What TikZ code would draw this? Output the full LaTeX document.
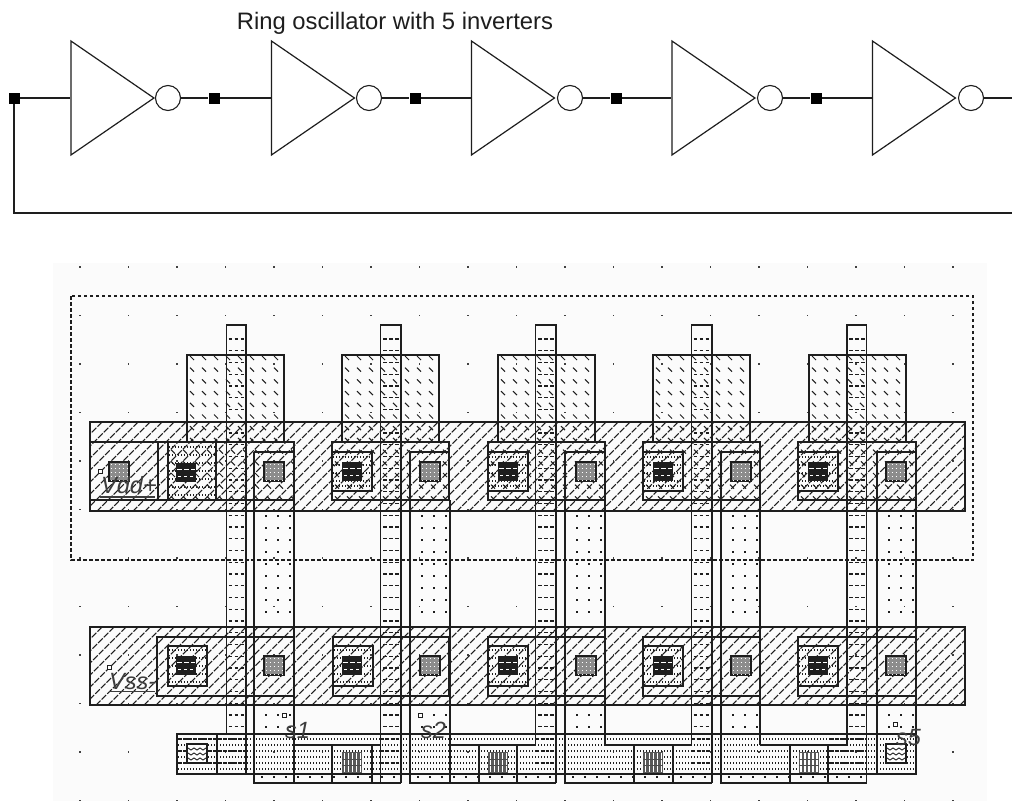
\documentclass[tikz,border=0pt]{standalone}
\usepackage{fontspec}
\setmainfont{Liberation Sans}
\usetikzlibrary{shapes.geometric}
\definecolor{ink}{HTML}{1E1E1E}
\definecolor{lab}{HTML}{3C3C3C}
\definecolor{pagegray}{HTML}{FBFBFB}
\tikzset{
  inverter/.style={draw=ink,line width=1.2pt,fill=white,isosceles triangle,isosceles triangle stretches,
    shape border rotate=0,minimum width=114pt,minimum height=83pt,inner sep=0pt,anchor=apex},
  bubble/.style={draw=ink,line width=1.1pt,fill=white,circle,minimum size=25pt,inner sep=0pt},
  junction/.style={fill=black,rectangle,minimum size=11pt,inner sep=0pt},
  link/.style={draw=ink,line width=1.25pt},
  railhatch/.style={draw=ink,line width=1.05pt,dash pattern=on 6.5pt off 1.5pt},
  diffhatch/.style={draw=ink,line width=1pt},
  polydash/.style={draw=ink,line width=1.2pt,dash pattern=on 3.5pt off 2.5pt},
  rowdots/.style={draw=ink,line width=1.2pt,dash pattern=on 1.2pt off 1.8pt},
  rowdash/.style={draw=ink,line width=1.2pt,dash pattern=on 3.5pt off 1.5pt},
  tag/.style={text=lab,font=\fontsize{23.5}{24}\selectfont\itshape,inner sep=0pt},
  marker/.style={draw=ink,line width=.9pt,fill=white},
}
% ---- drawing helpers (pixel coordinates)
\newcommand\RailHatch[4]{\begin{scope}\clip (#1,#2) rectangle (#3,#4);
  \pgfmathtruncatemacro\ca{#1+#2}\pgfmathtruncatemacro\cb{\ca+12}\pgfmathtruncatemacro\cc{#3+#4}
  \foreach \c in {\ca,\cb,...,\cc} {\draw[railhatch] (\c-#2,#2) -- (\c-#4,#4);}
\end{scope}}
\newcommand\DiffHatch[4]{\begin{scope}\clip (#1,#2) rectangle (#3,#4);
  \pgfmathsetmacro\xa{#1+5}\pgfmathsetmacro\xb{\xa+12}
  \foreach \x in {\xa,\xb,...,#3} {\foreach \y in {358,369.7,...,#4}
    {\draw[diffhatch] (\x-2,\y-2) -- (\x+2,\y+2);}}
\end{scope}}
\newcommand\ContactDark[2]{\fill[ink] (#1,#2) rectangle ++(20,19);
  \draw[white,line width=1pt,dash pattern=on 5pt off 2pt] (#1+1,#2+6) -- ++(18,0);
  \draw[white,line width=1pt,dash pattern=on 3pt off 3pt] (#1+2,#2+13) -- ++(17,0);}
\newcommand\ContactGray[2]{\draw[ink,line width=1.3pt,fill=black!45] (#1,#2) rectangle ++(20,19);
  \foreach \u in {3,7,...,19} {\draw[white,line width=.8pt,dash pattern=on 1pt off 3pt] (#1+1.5,#2+\u-1) -- ++(17.5,0);}}
\newcommand\ContactVia[2]{\fill[black!65] (#1,#2) rectangle ++(20,21);
  \foreach \u in {3,7,...,19} {\draw[white,line width=1.5pt] (#1+\u-.5,#2+1) -- ++(0,19);}
  \foreach \u in {7,13} {\draw[black!70,line width=1pt] (#1,#2+\u) -- ++(20,0);}}
\newcommand\ContactWave[2]{\draw[ink,line width=1.3pt,fill=white] (#1,#2) rectangle ++(20,19);
  \foreach \u in {4,9,14} {\draw[ink,line width=.9pt] (#1+1,#2+\u) -- ++(3,2) -- ++(3,-2) -- ++(3,2) -- ++(3,-2) -- ++(3,2) -- ++(3,-2);}}
\begin{document}
\begin{tikzpicture}[x=1pt,y=-1pt]
\useasboundingbox (0,0) rectangle (1012,801);
\fill[white] (0,0) rectangle (1012,801);
\fill[pagegray] (53,263) rectangle (987,801);

% ---------- schematic ----------
\node[inner sep=0pt,text=ink,font=\fontsize{23.8}{24}\selectfont] (title) at (395,23) {Ring oscillator with 5 inverters};
\coordinate (endout) at (1012,98);
\coordinate (fbcorner) at (14,213);
\coordinate (fbend) at (1012,213);
\node[junction] (j1) at (14,98) {};
\node[junction] (j2) at (214,98) {};
\node[junction] (j3) at (415,98) {};
\node[junction] (j4) at (616,98) {};
\node[junction] (j5) at (816,98) {};
\node[inverter] (i1) at (155.5,98) {};
\node[inverter] (i2) at (356,98) {};
\node[inverter] (i3) at (556,98) {};
\node[inverter] (i4) at (756.5,98) {};
\node[inverter] (i5) at (957,98) {};
\node[bubble] (b1) at (168,98) {};
\node[bubble] (b2) at (369,98) {};
\node[bubble] (b3) at (570,98) {};
\node[bubble] (b4) at (770,98) {};
\node[bubble] (b5) at (971,98) {};
\draw[link] (j1) -- (i1);
\draw[link] (j2) -- (i2);
\draw[link] (j3) -- (i3);
\draw[link] (j4) -- (i4);
\draw[link] (j5) -- (i5);
\draw[link] (b1) -- (j2);
\draw[link] (b2) -- (j3);
\draw[link] (b3) -- (j4);
\draw[link] (b4) -- (j5);
\draw[link] (b5) -- (endout);
\draw[link] (j1) -- (fbcorner) -- (fbend);

% ---------- layout: grid ----------
\foreach \i in {0,...,18} {\foreach \j in {0,...,11}
  {\fill[black!75] (80+48.5*\i-.7,267+48.5*\j-.7) rectangle ++(1.5,1.5);}}
\draw[ink,line width=1.1pt,dash pattern=on 3.5pt off 2.5pt] (71,296) rectangle (973,560);

% ---------- rails ----------
\RailHatch{90}{422}{965}{511}
\RailHatch{90}{627}{965}{705}

% ---------- p diffusion ----------
\foreach \a/\b in {187/284,342/439,498/595,653/750,809/906}
  {\DiffHatch{\a}{355}{\b}{442}}
\DiffHatch{168}{442}{294}{500}
\foreach \a/\b in {332/449,488/605,643/760,798/916}
  {\DiffHatch{\a}{442}{\b}{500}}

% ---------- dotted n/p contact areas ----------
\foreach \y in {447,455,463,471,479,487,495} {\draw[rowdots] (169,\y) -- (216,\y);}
\foreach \a in {332,488,643,798} {\foreach \y in {457,465,473,481,486} {\draw[rowdots] (\a+1,\y) -- (\a+40,\y);}}
\foreach \a/\b in {168/207,333/372,488/527,643/683,798/838} {\foreach \y in {650,658,666,674,682} {\draw[rowdots] (\a+1,\y) -- (\b,\y);}}

% ---------- metal dots ----------
\foreach \a in {254,410,565,721,877} {
  \foreach \y in {516,528,...,622,715,727} {\foreach \d in {12,24,36} {\fill[ink] (\a+\d-.8,\y-1.2) rectangle ++(1.8,2.6);}}
}
\foreach \x in {262,274,...,400,418,430,...,555,573,585,...,711,729,741,...,865} {\fill[ink] (\x-.8,776) rectangle ++(1.8,1.8);}

% ---------- horizontal poly strip ----------
\foreach \y in {739,745,751,757,763,769} {\draw[rowdots] (178,\y) -- (915,\y);}
\foreach \a/\b in {178/246,380.5/401,535.5/556,691.5/712,830/866} {\foreach \y in {739,751,763} {\draw[rowdash] (\a,\y) -- (\b,\y);}}

% ---------- vertical poly dashes ----------
\foreach \a in {226.5,381,536,691.5,847} {\foreach \k in {0,...,33}
  {\draw[polydash] (\a+2,339+11.75*\k) -- ++(17,0);}}

% ---------- outlines ----------
\begin{scope}[line width=1.3pt,draw=ink]
% p diffusion outlines
\foreach \a/\b in {187/284,342/439,498/595,653/750,809/906} {\draw (\a,442) -- (\a,355) -- (\b,355) -- (\b,442);}
% rails
\draw (90,422) rectangle (965,511);
\draw (90,627) rectangle (965,705);
% upper group boxes
\draw (90,442) -- (294,442) -- (294,500) -- (90,500);
\draw (158,442) -- (158,500); \draw (168,442) -- (168,500); \draw (216,442) -- (216,500);
\draw (254,452) -- (294,452);
\foreach \a/\b/\m in {332/449/410,488/605/565,643/760/721,798/916/877} {
  \draw (\a,442) rectangle (\b,500);
  \draw (\a,491) -- (\a+40,491) -- (\a+40,452) -- (\a,452);
  \draw (\m,452) -- (\b,452);
}
% lower group boxes
\draw (157,637) rectangle (294,696);
\draw (168,646) rectangle (207,686);
\foreach \a/\b in {333/449,488/605,643/760,798/916} {
  \draw (\a,637) rectangle (\b,696);
  \draw (\a,646) rectangle (\a+40,686);
}
% poly strip
\draw (177,734) rectangle (916,774);
\draw (217,734) -- (217,774);
% vertical poly
\draw (226.5,734) -- (226.5,325) -- (246,325) -- (246,774);
\draw (380.5,783) -- (380.5,325) -- (401,325) -- (401,783);
\draw (535.5,745) -- (535.5,325) -- (556,325) -- (556,783);
\draw (691.5,745) -- (691.5,325) -- (712,325) -- (712,783);
\draw (847,745) -- (847,325) -- (866.5,325) -- (866.5,783);
% metal wires and gate pads
\draw (254,452) -- (254,783) -- (401,783);
\draw (294,442) -- (294,783); \draw (294,745) -- (380.5,745);
\draw (410,452) -- (410,783) -- (556,783);
\draw (450,500) -- (450,783); \draw (450,745) -- (535.5,745);
\draw (565,452) -- (565,783) -- (712,783);
\draw (605,500) -- (605,745); \draw (605,745) -- (691.5,745);
\draw (721,452) -- (721,783) -- (866.5,783);
\draw (760,500) -- (760,745); \draw (760,745) -- (847,745);
\draw (877,452) -- (877,774);
\draw (916,500) -- (916,774);
% gate pad dividers
\foreach \l/\r in {332/372,479/517,634/673,790/828} { \draw (\l,745) -- (\l,783); \draw (\r,745) -- (\r,783); }
\end{scope}

% ---------- contacts ----------
\ContactGray{109}{462}
\ContactDark{176}{463}
\foreach \a in {342,498,653,808} {\ContactDark{\a}{462}}
\foreach \a in {264,420,576,731,886} {\ContactGray{\a}{462}}
\foreach \a in {176,342,498,653,808} {\ContactDark{\a}{656}}
\foreach \a in {264,420,576,731,886} {\ContactGray{\a}{656}}
\ContactWave{187}{744}
\ContactWave{886}{744}
\foreach \a in {342,488,643,798.5} {\ContactVia{\a}{752}}

% ---------- labels ----------
\foreach \x/\y in {100/471,109/667,284/715,420/715,895/724}
  {\draw[marker] (\x-2,\y-2) rectangle ++(4,4);}
\node[tag,anchor=base west] (vdd) at (101,493) {Vdd+};
\draw[lab,line width=1.1pt] (100,497) -- (155,497);
\node[tag,anchor=base west] (vss) at (109,689) {Vss-};
\draw[lab,line width=1.1pt] (109,691.5) -- (155,691.5);
\node[tag,anchor=base west] (s1) at (285,738) {s1};
\node[tag,anchor=base west] (s2) at (421,738) {s2};
\node[tag,anchor=base west] (s5) at (896,745) {s5};
\end{tikzpicture}
\end{document}
